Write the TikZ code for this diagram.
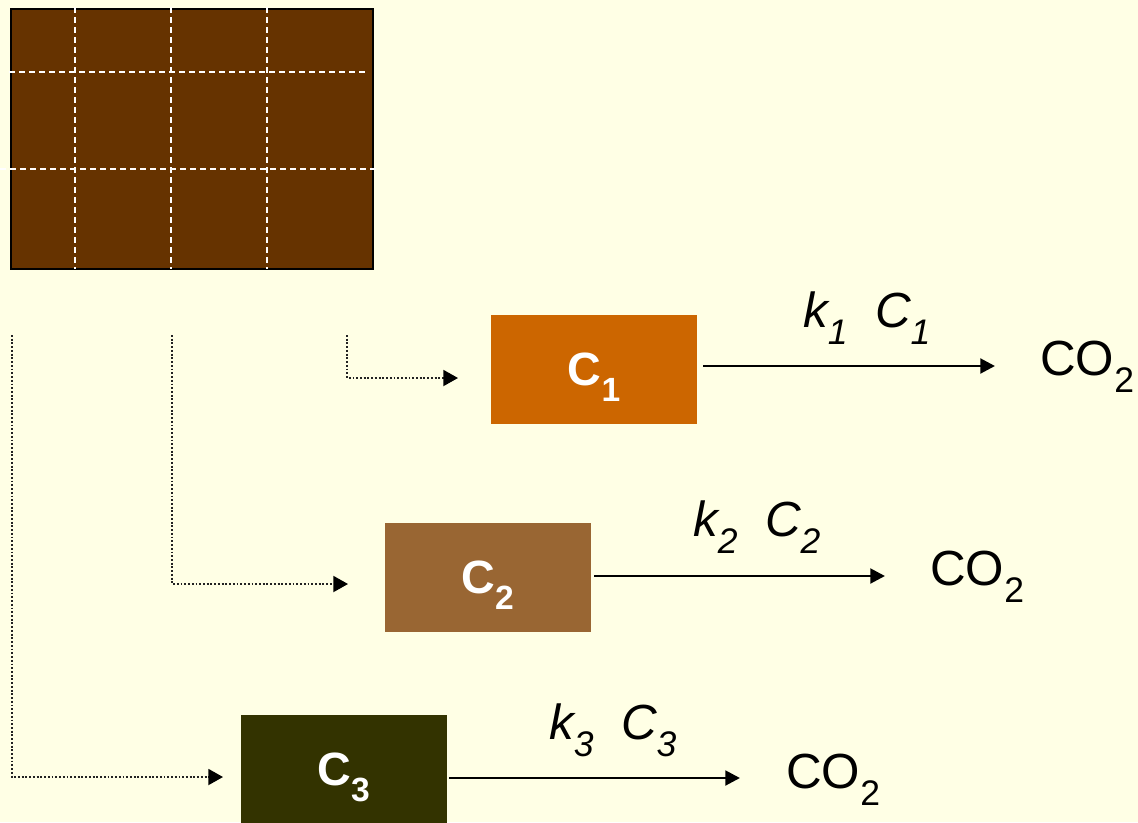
\documentclass[tikz,border=0pt]{standalone}
\usepackage{graphicx}
\usepackage{fontspec}
\setmainfont{Liberation Sans}
\usetikzlibrary{arrows.meta}
\definecolor{bgcol}{HTML}{FFFFE5}
\definecolor{soilcol}{HTML}{663300}
\definecolor{cone}{HTML}{CC6600}
\definecolor{ctwo}{HTML}{996633}
\definecolor{cthree}{HTML}{333300}
\definecolor{dotcol}{HTML}{222222}
\newcommand\lowsub[1]{\raisebox{-0.36em}{\scalebox{0.72}{#1}}}
\tikzset{
  x=0.75pt, y=-0.75pt,
  poolbox/.style={inner sep=0pt, minimum width=154.5pt, minimum height=81.75pt,
    text=white, font=\bfseries\fontsize{35}{40}\selectfont,
    text height=23.25pt, text depth=0pt},
  txt/.style={inner sep=0pt, anchor=base west, font=\fontsize{37}{40}\selectfont},
  flow/.style={line width=2.2pt, -{Triangle[length=11pt,width=11pt]}},
  dotflow/.style={line width=1.4pt, dotcol, dash pattern=on 1.4pt off 1.4pt,
    -{Triangle[length=11pt,width=12pt,fill=black,color=black]}},
  griddash/.style={white, line width=1.4pt, dash pattern=on 4.5pt off 3pt}
}
\begin{document}
\begin{tikzpicture}
\fill[bgcol] (0,0) rectangle (1138,822);
\useasboundingbox (0,0) rectangle (1138,822);
% soil block
\draw[fill=soilcol, line width=1.6pt] (11,9) rectangle (373,269);
\draw[griddash] (75,7) -- (75,269);
\draw[griddash] (171,7) -- (171,269);
\draw[griddash] (267,7) -- (267,269);
\draw[griddash] (9,72) -- (365,72);
\draw[griddash] (0,169) -- (378,169);
% pools
\node[poolbox, fill=cone] (c1) at (594,369.5) {C\lowsub{1}};
\node[poolbox, fill=ctwo] (c2) at (487.5,577.5) {C\lowsub{2}};
\node[poolbox, fill=cthree] (c3) at (343.5,769.5) {C\lowsub{3}};
% products
\node[txt] (co1) at (1040,375) {CO\lowsub{2}};
\node[txt] (co2) at (930,585) {CO\lowsub{2}};
\node[txt] (co3) at (786,788) {CO\lowsub{2}};
% rate labels
\node[txt] (k1) at (803,327) {\textit{k\lowsub{1}\ \ C\lowsub{1}}};
\node[txt] (k2) at (693,536) {\textit{k\lowsub{2}\ \ C\lowsub{2}}};
\node[txt] (k3) at (549,739) {\textit{k\lowsub{3}\ \ C\lowsub{3}}};
% solid arrows
\coordinate (a1s) at (703,366); \coordinate (a1e) at (995,366);
\coordinate (a2s) at (594,576); \coordinate (a2e) at (885,576);
\coordinate (a3s) at (449,778); \coordinate (a3e) at (740,778);
\draw[flow] (a1s) -- (a1e);
\draw[flow] (a2s) -- (a2e);
\draw[flow] (a3s) -- (a3e);
% dotted allocation arrows
\coordinate (s1) at (347,335); \coordinate (t1) at (458,378);
\coordinate (s2) at (172,335); \coordinate (t2) at (348,584);
\coordinate (s3) at (12,335);  \coordinate (t3) at (223,777);
\draw[dotflow] (s1) |- (t1);
\draw[dotflow] (s2) |- (t2);
\draw[dotflow] (s3) |- (t3);
\end{tikzpicture}
\end{document}
